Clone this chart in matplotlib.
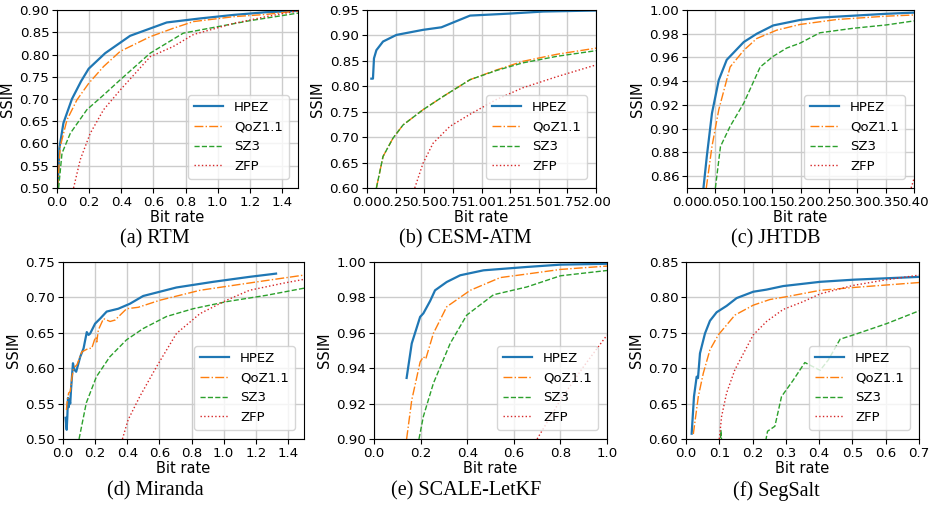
import matplotlib
matplotlib.use("Agg")
import matplotlib.pyplot as plt
from matplotlib.ticker import MultipleLocator, FormatStrFormatter

# ---------------- data: bit rate vs. SSIM ----------------
methods = ["HPEZ", "QoZ1.1", "SZ3", "ZFP"]

# (a) RTM
rtm_hpez_x = [0.004, 0.015, 0.04, 0.093, 0.15, 0.197, 0.30, 0.455, 0.683, 0.89, 1.10, 1.30, 1.5]
rtm_hpez_y = [0.500, 0.590, 0.646, 0.700, 0.740, 0.768, 0.803, 0.842, 0.872, 0.881, 0.889, 0.895, 0.898]
rtm_qoz_x = [0.004, 0.02, 0.062, 0.124, 0.197, 0.29, 0.393, 0.58, 0.724, 0.85, 1.10, 1.30, 1.5]
rtm_qoz_y = [0.500, 0.593, 0.653, 0.698, 0.735, 0.773, 0.807, 0.840, 0.859, 0.874, 0.885, 0.890, 0.898]
rtm_sz3_x = [0.01, 0.031, 0.083, 0.186, 0.29, 0.393, 0.58, 0.786, 0.993, 1.2, 1.5]
rtm_sz3_y = [0.500, 0.578, 0.623, 0.676, 0.709, 0.743, 0.803, 0.848, 0.862, 0.876, 0.893]
rtm_zfp_x = [0.103, 0.145, 0.207, 0.29, 0.393, 0.58, 0.724, 0.85, 1.10, 1.30, 1.5]
rtm_zfp_y = [0.500, 0.564, 0.623, 0.676, 0.720, 0.795, 0.818, 0.845, 0.870, 0.885, 0.898]

# (b) CESM-ATM
cesm_hpez_x = [0.038, 0.052, 0.061, 0.082, 0.14, 0.257, 0.49, 0.65, 0.90, 1.25, 1.54, 2.0]
cesm_hpez_y = [0.815, 0.815, 0.855, 0.871, 0.888, 0.901, 0.911, 0.916, 0.939, 0.943, 0.947, 0.949]
cesm_qoz_x = [0.082, 0.14, 0.227, 0.315, 0.49, 0.665, 0.90, 1.13, 1.36, 1.66, 2.0]
cesm_qoz_y = [0.600, 0.662, 0.698, 0.724, 0.754, 0.780, 0.813, 0.832, 0.849, 0.863, 0.875]
cesm_sz3_x = [0.082, 0.14, 0.227, 0.315, 0.49, 0.665, 0.90, 1.13, 1.36, 1.66, 2.0]
cesm_sz3_y = [0.600, 0.662, 0.698, 0.724, 0.754, 0.780, 0.813, 0.831, 0.846, 0.859, 0.870]
cesm_zfp_x = [0.417, 0.49, 0.577, 0.723, 0.90, 1.13, 1.36, 1.66, 2.0]
cesm_zfp_y = [0.600, 0.649, 0.688, 0.721, 0.745, 0.774, 0.797, 0.819, 0.842]

# (c) JHTDB
jh_hpez_x = [0.029, 0.035, 0.044, 0.056, 0.070, 0.10, 0.123, 0.152, 0.199, 0.234, 0.293, 0.351, 0.40]
jh_hpez_y = [0.850, 0.877, 0.913, 0.941, 0.958, 0.973, 0.980, 0.987, 0.9916, 0.9936, 0.9952, 0.9968, 0.9978]
jh_qoz_x = [0.034, 0.044, 0.056, 0.076, 0.10, 0.123, 0.158, 0.199, 0.264, 0.351, 0.40]
jh_qoz_y = [0.850, 0.885, 0.916, 0.952, 0.966, 0.976, 0.983, 0.9878, 0.992, 0.9948, 0.9958]
jh_sz3_x = [0.050, 0.059, 0.076, 0.10, 0.129, 0.152, 0.176, 0.199, 0.234, 0.293, 0.351, 0.40]
jh_sz3_y = [0.850, 0.885, 0.902, 0.9215, 0.952, 0.961, 0.968, 0.972, 0.9808, 0.9846, 0.9874, 0.9908]
jh_zfp_x = [0.395, 0.40]
jh_zfp_y = [0.850, 0.858]

# (d) Miranda
mir_hpez_x = [0.016, 0.023, 0.027, 0.031, 0.036, 0.040, 0.045, 0.050, 0.062, 0.070, 0.082,
              0.107, 0.128, 0.148, 0.159, 0.169, 0.20, 0.231, 0.272, 0.344, 0.416, 0.499,
              0.706, 0.935, 1.16, 1.326]
mir_hpez_y = [0.530, 0.513, 0.532, 0.558, 0.545, 0.556, 0.550, 0.570, 0.607, 0.598, 0.595,
              0.616, 0.628, 0.651, 0.647, 0.649, 0.663, 0.670, 0.680, 0.684, 0.691, 0.702,
              0.714, 0.722, 0.729, 0.7336]
mir_qoz_x = [0.021, 0.025, 0.035, 0.045, 0.056, 0.066, 0.087, 0.117, 0.159, 0.179, 0.196,
             0.204, 0.21, 0.22, 0.252, 0.293, 0.324, 0.396, 0.468, 0.603, 0.852, 1.06,
             1.27, 1.5]
mir_qoz_y = [0.541, 0.551, 0.565, 0.567, 0.588, 0.600, 0.605, 0.623, 0.628, 0.628, 0.640,
             0.644, 0.637, 0.654, 0.670, 0.666, 0.668, 0.684, 0.686, 0.696, 0.710, 0.717,
             0.724, 0.7315]
mir_sz3_x = [0.10, 0.145, 0.208, 0.291, 0.395, 0.499, 0.644, 0.81, 1.018, 1.267, 1.5]
mir_sz3_y = [0.500, 0.551, 0.588, 0.616, 0.640, 0.656, 0.673, 0.684, 0.694, 0.703, 0.713]
mir_zfp_x = [0.37, 0.405, 0.478, 0.582, 0.706, 0.852, 1.018, 1.16, 1.37, 1.5]
mir_zfp_y = [0.500, 0.527, 0.560, 0.602, 0.649, 0.677, 0.696, 0.710, 0.720, 0.7255]

# (e) SCALE-LetKF
sc_hpez_x = [0.14, 0.162, 0.198, 0.212, 0.241, 0.262, 0.312, 0.37, 0.47, 0.656, 0.80, 1.0]
sc_hpez_y = [0.9345, 0.954, 0.969, 0.971, 0.978, 0.984, 0.9887, 0.9925, 0.9953, 0.9972, 0.9985, 0.999]
sc_qoz_x = [0.14, 0.162, 0.198, 0.212, 0.222, 0.255, 0.312, 0.413, 0.542, 0.656, 0.80, 1.0]
sc_qoz_y = [0.900, 0.922, 0.9435, 0.9465, 0.9452, 0.9597, 0.9747, 0.984, 0.9912, 0.9932, 0.9958, 0.9977]
sc_sz3_x = [0.193, 0.212, 0.255, 0.327, 0.398, 0.513, 0.656, 0.80, 1.0]
sc_sz3_y = [0.900, 0.9128, 0.9315, 0.954, 0.970, 0.9815, 0.9859, 0.9922, 0.9952]
sc_zfp_x = [0.70, 0.80, 0.90, 1.0]
sc_zfp_y = [0.900, 0.922, 0.941, 0.9587]

# (f) SegSalt
seg_hpez_x = [0.017, 0.024, 0.032, 0.036, 0.042, 0.057, 0.072, 0.092, 0.122, 0.152, 0.202,
              0.242, 0.292, 0.403, 0.503, 0.70]
seg_hpez_y = [0.6075, 0.660, 0.688, 0.686, 0.721, 0.749, 0.767, 0.779, 0.788, 0.799, 0.808,
              0.811, 0.816, 0.822, 0.825, 0.829]
seg_qoz_x = [0.022, 0.037, 0.052, 0.072, 0.097, 0.147, 0.202, 0.252, 0.302, 0.403, 0.503, 0.70]
seg_qoz_y = [0.607, 0.660, 0.693, 0.726, 0.747, 0.775, 0.789, 0.797, 0.801, 0.810, 0.814, 0.821]
seg_sz3_x = [0.100, 0.105, 0.112, 0.20, 0.245, 0.267, 0.287, 0.322, 0.357, 0.403, 0.428,
             0.463, 0.503, 0.603, 0.70]
seg_sz3_y = [0.560, 0.612, 0.560, 0.500, 0.611, 0.618, 0.660, 0.683, 0.708, 0.697, 0.712,
             0.741, 0.747, 0.763, 0.781]
seg_zfp_x = [0.10, 0.107, 0.122, 0.147, 0.202, 0.242, 0.292, 0.352, 0.403, 0.503, 0.603, 0.70]
seg_zfp_y = [0.600, 0.632, 0.665, 0.698, 0.747, 0.766, 0.783, 0.794, 0.805, 0.817, 0.825, 0.8315]

captions = ["(a) RTM", "(b) CESM-ATM", "(c) JHTDB",
            "(d) Miranda", "(e) SCALE-LetKF", "(f) SegSalt"]

# ---------------- drawing ----------------
colors = ["#1f77b4", "#ff7f0e", "#2ca02c", "#d62728"]
styles = ["-", "-.", "--", ":"]
widths = [1.6, 1.0, 1.0, 1.0]

W, H = 931, 505
fig = plt.figure(figsize=(W / 100, H / 100), dpi=100)

# pixel boxes: left, right, top, bottom
boxes = [(57, 298, 10, 188), (367, 596, 10, 188), (687, 914, 10, 188),
         (63, 304, 262, 439), (374, 607, 262, 439), (686, 919, 262, 439)]

panels = [
    ([(rtm_hpez_x, rtm_hpez_y), (rtm_qoz_x, rtm_qoz_y), (rtm_sz3_x, rtm_sz3_y), (rtm_zfp_x, rtm_zfp_y)],
     (0, 1.5), (0.5, 0.9), 0.2, 0.05, "%.1f", "%.2f"),
    ([(cesm_hpez_x, cesm_hpez_y), (cesm_qoz_x, cesm_qoz_y), (cesm_sz3_x, cesm_sz3_y), (cesm_zfp_x, cesm_zfp_y)],
     (0, 2.0), (0.6, 0.95), 0.25, 0.05, "%.2f", "%.2f"),
    ([(jh_hpez_x, jh_hpez_y), (jh_qoz_x, jh_qoz_y), (jh_sz3_x, jh_sz3_y), (jh_zfp_x, jh_zfp_y)],
     (0, 0.4), (0.85, 1.0), 0.05, 0.02, "%.2f", "%.2f"),
    ([(mir_hpez_x, mir_hpez_y), (mir_qoz_x, mir_qoz_y), (mir_sz3_x, mir_sz3_y), (mir_zfp_x, mir_zfp_y)],
     (0, 1.5), (0.5, 0.75), 0.2, 0.05, "%.1f", "%.2f"),
    ([(sc_hpez_x, sc_hpez_y), (sc_qoz_x, sc_qoz_y), (sc_sz3_x, sc_sz3_y), (sc_zfp_x, sc_zfp_y)],
     (0, 1.0), (0.9, 1.0), 0.2, 0.02, "%.1f", "%.2f"),
    ([(seg_hpez_x, seg_hpez_y), (seg_qoz_x, seg_qoz_y), (seg_sz3_x, seg_sz3_y), (seg_zfp_x, seg_zfp_y)],
     (0, 0.7), (0.6, 0.85), 0.1, 0.05, "%.1f", "%.2f"),
]

caption_centers = [(155, 239), (465, 239), (776, 239), (155, 491), (466, 491), (776, 491)]

for i, (series, xl, yl, xs, ys, xf, yf) in enumerate(panels):
    l, r, t, b = boxes[i]
    ax = fig.add_axes([l / W, 1 - b / H, (r - l) / W, (b - t) / H])
    for (x, y), name, c, ls, lw in zip(series, methods, colors, styles, widths):
        ax.plot(x, y, color=c, linestyle=ls, linewidth=lw, label=name)
    ax.set_xlim(*xl)
    ax.set_ylim(*yl)
    ax.xaxis.set_major_locator(MultipleLocator(xs))
    ax.yaxis.set_major_locator(MultipleLocator(ys))
    ax.xaxis.set_major_formatter(FormatStrFormatter(xf))
    ax.yaxis.set_major_formatter(FormatStrFormatter(yf))
    ax.grid(True, color="0.8", linewidth=1.0)
    ax.set_axisbelow(True)
    ax.tick_params(labelsize=9.6, length=3.5, width=0.8, pad=2)
    ax.set_xlabel("Bit rate", fontsize=10.5, labelpad=1)
    ax.set_ylabel("SSIM", fontsize=10.5, labelpad=3)
    ax.legend(loc="lower right", fontsize=9.5, handlelength=2.2,
              borderaxespad=0.7, borderpad=0.45)
    cx, cy = caption_centers[i]
    fig.text(cx / W, 1 - cy / H, captions[i], ha="center", va="center",
             fontsize=14.5, family="Liberation Serif")

fig.savefig("out.png", dpi=100)
